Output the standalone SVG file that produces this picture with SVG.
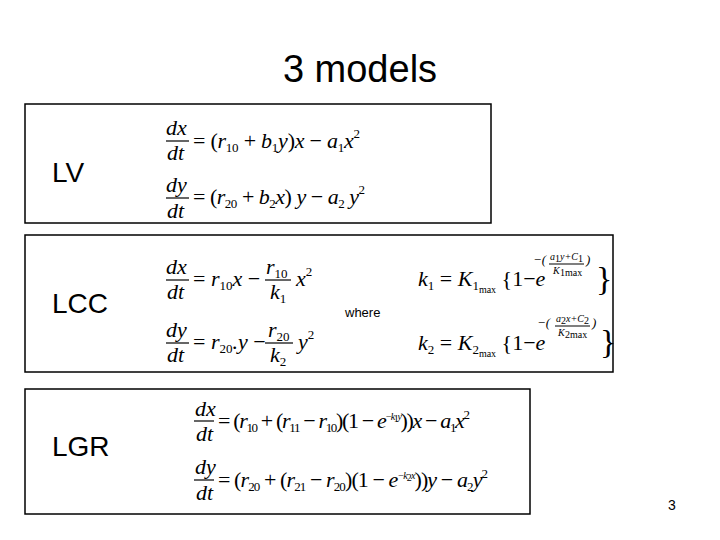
<svg xmlns="http://www.w3.org/2000/svg" width="720" height="540" viewBox="0 0 720 540">
<style>
.box{fill:#fff;stroke:#000;stroke-width:1.5}
.lab{font-family:"Liberation Sans",Arial,sans-serif;font-size:28px;fill:#000}
.m{font-family:"Liberation Serif","Times New Roman",serif;font-size:22px;font-style:italic;fill:#000}
.s{font-size:13px}
.ss{font-size:10px}
.n{font-style:normal}
.fl{stroke:#000;stroke-width:1.2}
</style>
<rect width="720" height="540" fill="#fff"/>
<text x="360" y="82" text-anchor="middle" font-family="Liberation Sans,Arial,sans-serif" font-size="38">3 models</text>
<g id="LV">
<rect class="box" x="25" y="104" width="466" height="119"/>
<text class="lab" x="52" y="182">LV</text>
<text class="m" x="166" y="135">dx</text><line class="fl" x1="166" y1="141" x2="189" y2="141"/><text class="m" x="167" y="160">dt</text>
<text class="m" x="193" y="148" textLength="167"><tspan class="n">= (</tspan>r<tspan class="s n" dy="4">10</tspan><tspan dy="-4" class="n"> + </tspan>b<tspan class="s n" dy="4">1</tspan><tspan dy="-4">y</tspan><tspan class="n">)</tspan>x <tspan class="n">− </tspan>a<tspan class="s n" dy="4">1</tspan><tspan dy="-4">x</tspan><tspan class="s n" dy="-10">2</tspan></text>
<text class="m" x="166" y="192">dy</text><line class="fl" x1="166" y1="198" x2="189" y2="198"/><text class="m" x="167" y="218">dt</text>
<text class="m" x="193" y="204" textLength="172"><tspan class="n">= (</tspan>r<tspan class="s n" dy="4">20</tspan><tspan dy="-4" class="n"> + </tspan>b<tspan class="s n" dy="4">2</tspan><tspan dy="-4">x</tspan><tspan class="n">) </tspan>y <tspan class="n">− </tspan>a<tspan class="s n" dy="4">2</tspan><tspan dy="-4"> y</tspan><tspan class="s n" dy="-10">2</tspan></text>
</g>
<g id="LCC">
<rect class="box" x="25" y="235" width="588" height="137"/>
<text class="lab" x="52" y="313">LCC</text>
<text class="m" x="166" y="274">dx</text><line class="fl" x1="166" y1="280" x2="189" y2="280"/><text class="m" x="167" y="299">dt</text>
<text class="m" x="193" y="286"><tspan class="n">= </tspan>r<tspan class="s n" dy="4">10</tspan><tspan dy="-4">x </tspan><tspan class="n">−</tspan></text>
<text class="m" x="266" y="274">r<tspan class="s n" dy="4">10</tspan></text><line class="fl" x1="265" y1="280" x2="291" y2="280"/><text class="m" x="270" y="299">k<tspan class="s n" dy="4">1</tspan></text>
<text class="m" x="296" y="286">x<tspan class="s n" dy="-10">2</tspan></text>
<text class="m" x="166" y="337">dy</text><line class="fl" x1="166" y1="343" x2="189" y2="343"/><text class="m" x="167" y="362">dt</text>
<text class="m" x="193" y="349"><tspan class="n">= </tspan>r<tspan class="s n" dy="4">20</tspan><tspan dy="-4">.y </tspan><tspan class="n">−</tspan></text>
<text class="m" x="268" y="337">r<tspan class="s n" dy="4">20</tspan></text><line class="fl" x1="265" y1="343" x2="293" y2="343"/><text class="m" x="270" y="362">k<tspan class="s n" dy="4">2</tspan></text>
<text class="m" x="298" y="349">y<tspan class="s n" dy="-10">2</tspan></text>
<text x="345" y="317" font-family="Liberation Sans,Arial,sans-serif" font-size="13">where</text>
<text class="m" x="418" y="286">k<tspan class="s n" dy="4">1</tspan><tspan class="n" dy="-4"> = </tspan>K<tspan class="s n" dy="4">1</tspan><tspan class="ss n" dy="3">max</tspan><tspan class="n" dy="-7"> {1−</tspan>e</text>
<text class="m s" x="533" y="264">−(</text>
<text class="m ss" x="550" y="260">a</text><text class="m ss n" x="555" y="262">1</text><text class="m ss" x="560" y="260">y+C</text><text class="m ss n" x="578" y="262">1</text>
<line class="fl" x1="549" y1="264" x2="584" y2="264" stroke-width="0.7"/>
<text class="m ss" x="553" y="274">K</text><text class="m ss n" x="560" y="276">1max</text>
<text class="m s" x="586" y="264">)</text>
<text class="n" x="596" y="290" font-family="Liberation Serif,serif" font-size="34">}</text>
<text class="m" x="418" y="350">k<tspan class="s n" dy="4">2</tspan><tspan class="n" dy="-4"> = </tspan>K<tspan class="s n" dy="4">2</tspan><tspan class="ss n" dy="3">max</tspan><tspan class="n" dy="-7"> {1−</tspan>e</text>
<text class="m s" x="537" y="327">−(</text>
<text class="m ss" x="556" y="322">a</text><text class="m ss n" x="561" y="324">2</text><text class="m ss" x="566" y="322">x+C</text><text class="m ss n" x="584" y="324">2</text>
<line class="fl" x1="555" y1="326" x2="590" y2="326" stroke-width="0.7"/>
<text class="m ss" x="558" y="336">K</text><text class="m ss n" x="565" y="338">2max</text>
<text class="m s" x="592" y="327">)</text>
<text class="n" x="600" y="353" font-family="Liberation Serif,serif" font-size="34">}</text>
</g>
<g id="LGR">
<rect class="box" x="25" y="389" width="505" height="125"/>
<text class="lab" x="52" y="456">LGR</text>
<text class="m" x="195" y="416" font-size="18">dx</text><line class="fl" x1="194" y1="421" x2="214" y2="421"/><text class="m" x="196" y="441" font-size="18">dt</text>
<text class="m" x="218" y="428" font-size="18" textLength="252"><tspan class="n">= (</tspan>r<tspan class="s n" dy="4">10</tspan><tspan class="n" dy="-4"> + (</tspan>r<tspan class="s n" dy="4">11</tspan><tspan class="n" dy="-4"> − </tspan>r<tspan class="s n" dy="4">10</tspan><tspan class="n" dy="-4">)(1 − </tspan>e<tspan class="ss" dy="-8">−k</tspan><tspan class="ss n" dy="2">1</tspan><tspan class="ss" dy="-2">y</tspan><tspan class="n" dy="8">))</tspan>x <tspan class="n">− </tspan>a<tspan class="s n" dy="4">1</tspan><tspan dy="-4">x</tspan><tspan class="s n" dy="-9">2</tspan></text>
<text class="m" x="195" y="474" font-size="18">dy</text><line class="fl" x1="194" y1="480" x2="214" y2="480"/><text class="m" x="196" y="500" font-size="18">dt</text>
<text class="m" x="218" y="487" font-size="18" textLength="270"><tspan class="n">= (</tspan>r<tspan class="s n" dy="4">20</tspan><tspan class="n" dy="-4"> + (</tspan>r<tspan class="s n" dy="4">21</tspan><tspan class="n" dy="-4"> − </tspan>r<tspan class="s n" dy="4">20</tspan><tspan class="n" dy="-4">)(1 − </tspan>e<tspan class="ss" dy="-8">−k</tspan><tspan class="ss n" dy="2">2</tspan><tspan class="ss" dy="-2">x</tspan><tspan class="n" dy="8">))</tspan>y <tspan class="n">− </tspan>a<tspan class="s n" dy="4">2</tspan><tspan dy="-4">y</tspan><tspan class="s n" dy="-9">2</tspan></text>
</g>
<text x="668" y="510" font-family="Liberation Sans,Arial,sans-serif" font-size="14">3</text>
</svg>
